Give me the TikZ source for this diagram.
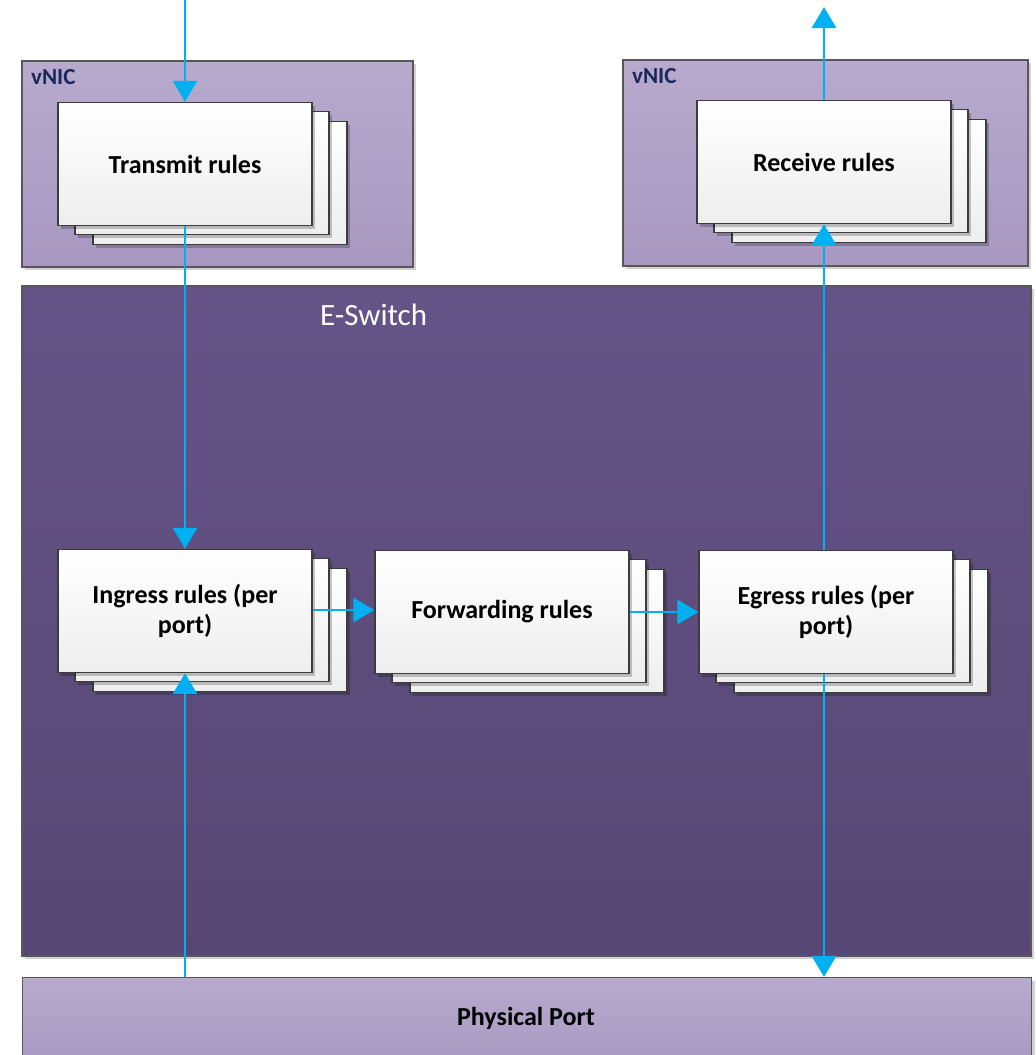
\documentclass[tikz,border=0pt]{standalone}
\usepackage{fontspec}
\setmainfont{Carlito}
\usetikzlibrary{arrows.meta,shadows,calc}

\definecolor{lilacTop}{RGB}{183,170,205}
\definecolor{lilacBot}{RGB}{168,152,193}
\definecolor{switchTop}{RGB}{101,84,135}
\definecolor{switchBot}{RGB}{86,71,116}
\definecolor{frameGray}{RGB}{88,88,88}
\definecolor{cardEdge}{RGB}{60,60,60}
\definecolor{cardBot}{RGB}{238,238,238}
\definecolor{flow}{RGB}{0,176,240}
\definecolor{navyText}{RGB}{28,40,92}

\tikzset{
  panel/.style={draw=frameGray, line width=1.4pt, top color=lilacTop, bottom color=lilacBot,
    drop shadow={shadow xshift=3pt, shadow yshift=-3pt, opacity=0.18, fill=black}},
  switchpanel/.style={draw=frameGray, line width=1.4pt, top color=switchTop, bottom color=switchBot,
    drop shadow={shadow xshift=3pt, shadow yshift=-3pt, opacity=0.18, fill=black}},
  card/.style={draw=cardEdge, line width=1.3pt, top color=white, bottom color=cardBot,
    minimum width=254pt, minimum height=123pt, inner sep=0pt, align=center,
    font=\fontsize{26}{30}\selectfont\bfseries,
    drop shadow={shadow xshift=3pt, shadow yshift=-3pt, opacity=0.22, fill=black}},
  panellabel/.style={inner sep=0pt, anchor=base west, text=navyText,
    font=\fontsize{23}{27}\selectfont\bfseries},
  flowarrow/.style={draw=flow, line width=2.8pt, -{Triangle[width=24pt,length=21pt]}},
}

% a stack of three rule cards; the front card carries the name and the text
\newcommand{\rulestack}[3]{%
  \node[card] (#1-c) at ($(#2)+(35,19)$) {};
  \node[card] (#1-b) at ($(#2)+(17,9)$) {};
  \node[card] (#1) at (#2) {#3};
}

\begin{document}
\begin{tikzpicture}[x=1pt,y=-1pt]
  \useasboundingbox (0,0) rectangle (1036,1055);
  \begin{scope}
    \clip (0,0) rectangle (1036,1055);

    % outer containers
    \path[panel] (22,61) rectangle (413,267);
    \path[panel] (623,60) rectangle (1028,266);
    \path[switchpanel] (22,286) rectangle (1031,956);
    \node[panel, minimum width=1009pt, minimum height=90pt, inner sep=0pt, anchor=north west]
      (pp) at (22,977) {};
    \node[inner sep=0pt, anchor=base, font=\fontsize{26}{30}\selectfont\bfseries]
      (pptext) at (526,1025) {Physical Port};

    % container labels
    \node[panellabel] (vnicA) at (31,84) {vNIC};
    \node[panellabel] (vnicB) at (632,83) {vNIC};
    \node[inner sep=0pt, anchor=base west, text=white, font=\fontsize{31}{36}\selectfont]
      (esw) at (320,325) {E-Switch};

    % rule card stacks
    \rulestack{tx}{185,164}{Transmit rules}
    \rulestack{rx}{824,162}{Receive rules}
    \rulestack{ing}{185,611}{Ingress rules (per\\port)}
    \rulestack{fwd}{502,612}{Forwarding rules}
    \rulestack{egr}{826,612}{Egress rules (per\\port)}

    % free ends of the outer connectors
    \coordinate (inTop) at (185,0);
    \coordinate (outTop) at (824,7);

    % packet flow
    \draw[flowarrow] (inTop) -- (tx.north);
    \draw[flowarrow] (tx.south) -- (ing.north);
    \draw[flowarrow] (pp.north -| ing.south) -- (ing.south);
    \draw[flowarrow] (ing.east |- 0,610) -- (fwd.west |- 0,610);
    \draw[flowarrow] (fwd.east |- 0,612) -- (egr.west |- 0,612);
    \draw[flowarrow] (egr.north -| rx.south) -- (rx.south);
    \draw[flowarrow] (rx.north) -- (outTop);
    \draw[flowarrow] (egr.south -| rx.south) -- (pp.north -| rx.south);
  \end{scope}
\end{tikzpicture}
\end{document}
